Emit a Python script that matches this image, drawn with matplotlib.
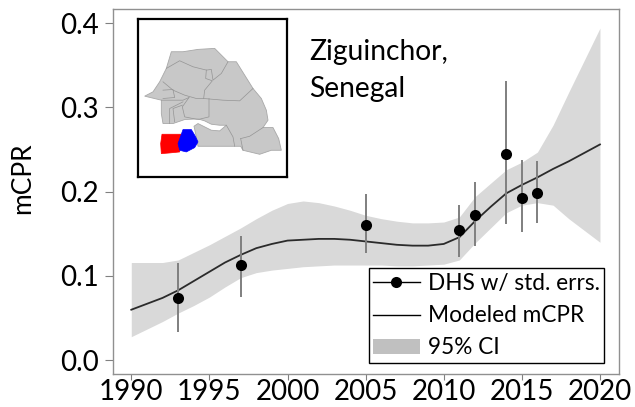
import numpy as np
import matplotlib
matplotlib.use('Agg')
import matplotlib.pyplot as plt
from matplotlib.lines import Line2D
from matplotlib.patches import Patch, Polygon

plt.rcParams['font.family'] = ['Lato', 'DejaVu Sans']

# survey points
dhs_years = [1993, 1997, 2005, 2011, 2012, 2014, 2015, 2016]
dhs_mcpr = [0.074, 0.113, 0.160, 0.154, 0.172, 0.245, 0.193, 0.199]
dhs_low = [0.033, 0.075, 0.127, 0.123, 0.136, 0.162, 0.152, 0.163]
dhs_high = [0.116, 0.147, 0.197, 0.184, 0.211, 0.331, 0.237, 0.236]

years = list(range(1990, 2021))
mcpr = [0.060, 0.067, 0.074, 0.083, 0.094, 0.105, 0.116, 0.125, 0.133, 0.138, 0.142,
        0.143, 0.144, 0.144, 0.143, 0.141, 0.139, 0.137, 0.136, 0.136, 0.138,
        0.146, 0.165, 0.182, 0.198, 0.208, 0.217, 0.227, 0.236, 0.246, 0.256]
ci_low = [0.028, 0.037, 0.046, 0.056, 0.065, 0.075, 0.087, 0.098, 0.104, 0.107, 0.109,
          0.111, 0.112, 0.113, 0.113, 0.113, 0.113, 0.112, 0.112, 0.113, 0.114,
          0.119, 0.139, 0.157, 0.175, 0.184, 0.187, 0.184, 0.168, 0.154, 0.140]
ci_high = [0.116, 0.116, 0.116, 0.119, 0.128, 0.137, 0.147, 0.157, 0.168, 0.178, 0.186,
           0.189, 0.187, 0.183, 0.178, 0.172, 0.168, 0.165, 0.163, 0.163, 0.164,
           0.170, 0.194, 0.210, 0.226, 0.235, 0.247, 0.279, 0.318, 0.356, 0.394]

# inset map outlines, in crop pixels
senegal = [(45, 258), (70, 245), (90, 215), (110, 175), (125, 125), (160, 125), (205, 118),
           (255, 115), (275, 135), (295, 155), (320, 155), (345, 195), (370, 235), (395, 265),
           (410, 300), (415, 330), (400, 352), (430, 352), (447, 385), (455, 420), (425, 420),
           (390, 432), (340, 420), (333, 408), (205, 408), (200, 380), (193, 348), (205, 340),
           (225, 350), (245, 360), (270, 362), (290, 345), (270, 345), (245, 342), (225, 332),
           (205, 326), (165, 328), (130, 340), (100, 340), (95, 310), (95, 270)]
red_region = [(97, 372), (155, 372), (150, 425), (120, 428), (95, 430), (93, 400)]
blue_region = [(160, 358), (185, 358), (197, 378), (205, 395), (195, 412), (170, 425),
               (150, 420), (145, 400), (155, 372)]
borders = [
    [(110, 175), (150, 152), (190, 170), (230, 180), (245, 178), (250, 210), (275, 190), (295, 155)],
    [(230, 180), (228, 205), (248, 212), (225, 240), (222, 265), (200, 265), (165, 255), (130, 240), (100, 215)],
    [(222, 265), (280, 270), (330, 272), (370, 235)],
    [(238, 265), (238, 320), (205, 328), (165, 320), (158, 290), (178, 262)],
    [(100, 240), (130, 238), (135, 262), (100, 265)],
    [(95, 270), (160, 270), (178, 262)],
    [(120, 340), (120, 295), (160, 275)],
    [(135, 335), (130, 295), (158, 285)],
    [(290, 345), (310, 380), (315, 408)],
    [(333, 385), (360, 378), (400, 352)],
    [(333, 385), (340, 420)],
]

fig = plt.figure(figsize=(6.35, 4.07), dpi=100)
ax = fig.add_axes([112.7/635, 1-373.7/407, (618.7-112.7)/635, (373.7-9)/407])

ax.fill_between(years, ci_low, ci_high, color='#d9d9d9', lw=0)
ax.plot(years, mcpr, color='#2b2b2b', lw=1.3)
ax.vlines(dhs_years, dhs_low, dhs_high, color='#7f7f7f', lw=1.4)
ax.plot(dhs_years, dhs_mcpr, 'o', color='black', ms=8, mew=0)

ax.set_xlim(1988.81, 2021.2)
ax.set_ylim(-0.0159, 0.4167)
ax.set_xticks(range(1990, 2021, 5))
ax.set_yticks([0.0, 0.1, 0.2, 0.3, 0.4])
ax.set_yticklabels(['0.0', '0.1', '0.2', '0.3', '0.4'])
ax.tick_params(axis='y', labelsize=20, length=6, width=0.8, color='#808080', pad=4)
ax.tick_params(axis='x', labelsize=20, length=4, width=0.8, color='#808080', pad=0)
for s in ax.spines.values():
    s.set_color('#909090')
    s.set_linewidth(1.0)

fig.text(23/635, 1-178/407, 'mCPR', fontsize=19, rotation=90, va='center', ha='center')

handles = [Line2D([], [], color='black', lw=1.0, marker='o', ms=8, mew=0),
           Line2D([], [], color='black', lw=1.0),
           Patch(color='#c0c0c0', lw=0)]
ax.legend(handles, ['DHS w/ std. errs.', 'Modeled mCPR', '95% CI'],
          loc='lower left', bbox_to_anchor=(368.7/506-112.7/506, (373.7-363)/364.7,
                                            (604-368.7)/506, (363-269)/364.7),
          mode='expand', borderaxespad=0, fontsize=16.3, fancybox=False, framealpha=1,
          edgecolor='black', handlelength=2.05, handleheight=0.6, handletextpad=0.35,
          labelspacing=0.5, borderpad=0.2)
ax.get_legend().get_frame().set_linewidth(1.0)

fig.text(309/635, 1-60/407, 'Ziguinchor,', fontsize=20.3, va='baseline', ha='left')
fig.text(309/635, 1-97/407, 'Senegal', fontsize=20.3, va='baseline', ha='left')

# map inset
inset = fig.add_axes([138/635, 1-177/407, 149/635, 158/407])
inset.set_xlim(25, 472)
inset.set_ylim(500, 27)
inset.set_xticks([])
inset.set_yticks([])
for s in inset.spines.values():
    s.set_color('black')
    s.set_linewidth(1.6)
inset.add_patch(Polygon(senegal, closed=True, fc='#c8c8c8', ec='#a8a8a8', lw=0.6))
for b in borders:
    xs, ys = zip(*b)
    inset.plot(xs, ys, color='#949494', lw=0.5)
inset.add_patch(Polygon(red_region, closed=True, fc='#ff0000', ec='#ff0000', lw=0.5))
inset.add_patch(Polygon(blue_region, closed=True, fc='#0000ff', ec='#0000ff', lw=0.5))

fig.savefig('out.png', dpi=100)
